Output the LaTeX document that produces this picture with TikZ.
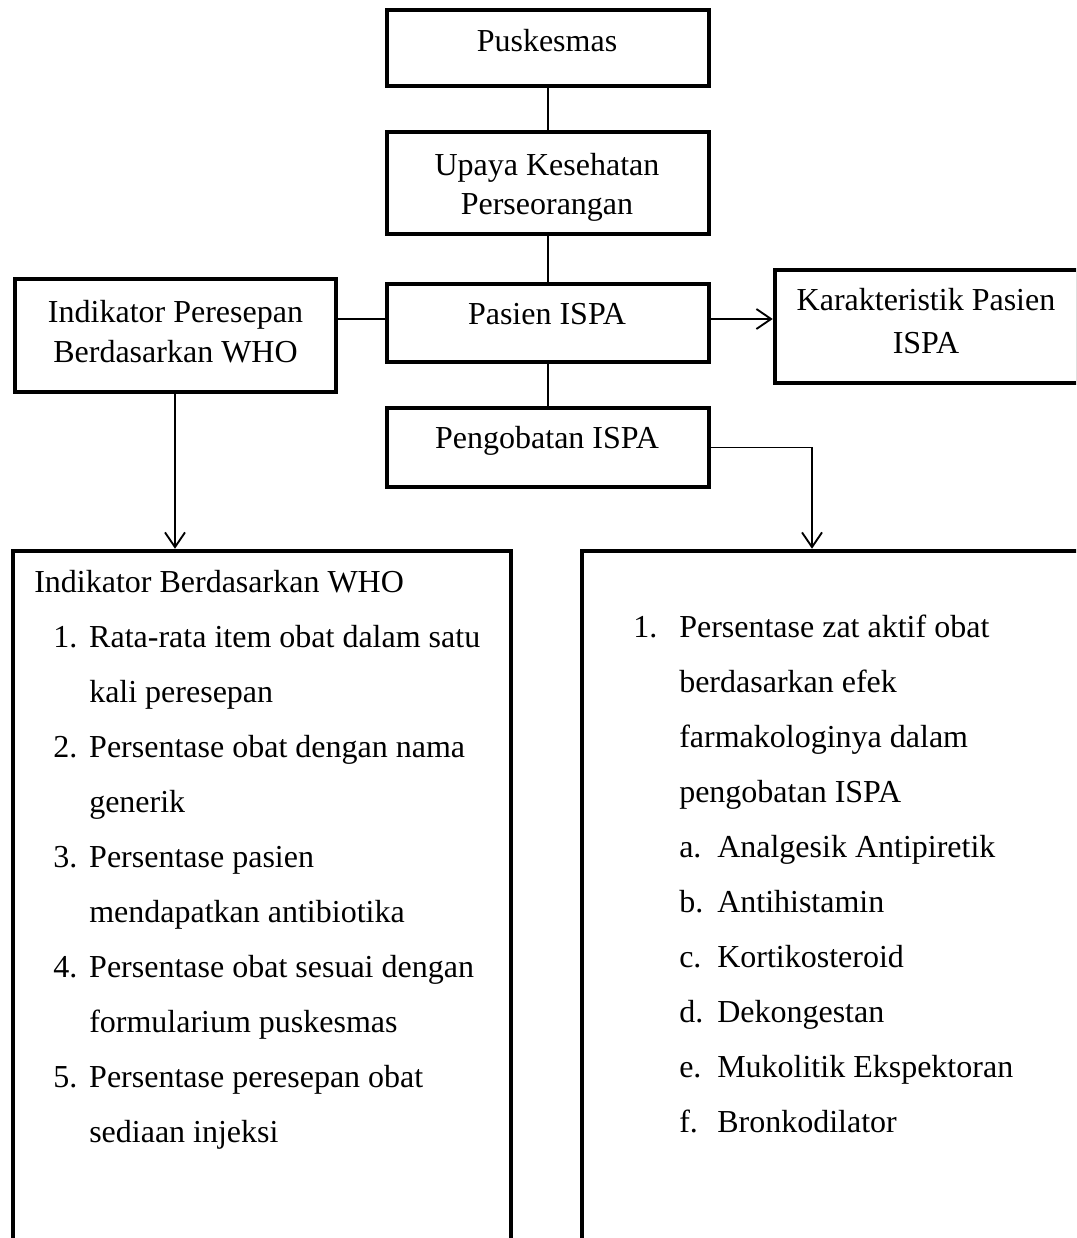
\documentclass[tikz,border=0pt]{standalone}
\usepackage{fontspec}
\setmainfont{Liberation Serif}
\usetikzlibrary{arrows.meta,fit}
\tikzset{
  box/.style={draw=black, line width=3.4pt, inner sep=0pt, fill=none},
  conn/.style={draw=black, line width=1.4pt},
  arr/.style={conn, -{Straight Barb[length=11pt,width=15pt,line width=1.4pt]}},
  txt/.style={inner sep=0pt, anchor=base, font=\fontsize{24}{30}\selectfont},
  listtxt/.style={inner sep=0pt, anchor=base west, font=\fontsize{24}{41.25}\selectfont}
}
\begin{document}
\begin{tikzpicture}[x=0.75pt,y=-0.75pt]
\useasboundingbox (0,0) rectangle (1076,1238);
\clip (0,0) rectangle (1076,1238);
\fill[white] (0,0) rectangle (1076,1238);

% boxes
\node[box, fit={(387,10) (709,86)}] (pus) {};
\node[box, fit={(387,132) (709,234)}] (upa) {};
\node[box, fit={(387,284) (709,362)}] (pas) {};
\node[box, fit={(387,408) (709,487)}] (pen) {};
\node[box, fit={(15,279) (336,392)}] (ind) {};
\node[box, fit={(775,270) (1078,383)}] (kar) {};
\node[box, fit={(13,551) (511,1260)}] (bl) {};
\node[box, fit={(582,551) (1090,1260)}] (br) {};

% helper coordinates
\coordinate (midrow) at (0,319);
\coordinate (tcol) at (812,0);
\coordinate (lcol) at (175,0);

% texts
\node[txt] (pusT) at (547,52) {Puskesmas};
\node[txt] (upaT) at (547,175) {\parbox[t]{300pt}{\centering\fontsize{24}{29.25}\selectfont Upaya Kesehatan\\Perseorangan}};
\node[txt] (pasT) at (547,324) {Pasien ISPA};
\node[txt] (penT) at (547,448) {Pengobatan ISPA};
\node[txt] (indT) at (175.5,322) {\parbox[t]{240pt}{\centering\fontsize{24}{30}\selectfont Indikator Peresepan\\Berdasarkan WHO}};
\node[txt] (karT) at (926,310) {\parbox[t]{240pt}{\centering\fontsize{24}{32.25}\selectfont Karakteristik Pasien\\ISPA}};

\node[listtxt] (blT) at (34,592) {\parbox[t]{360pt}{%
Indikator Berdasarkan WHO\\
\hspace*{14.25pt}\makebox[27pt][l]{1.}Rata-rata item obat dalam satu\\
\hspace*{41.25pt}kali peresepan\\
\hspace*{14.25pt}\makebox[27pt][l]{2.}Persentase obat dengan nama\\
\hspace*{41.25pt}generik\\
\hspace*{14.25pt}\makebox[27pt][l]{3.}Persentase pasien\\
\hspace*{41.25pt}mendapatkan antibiotika\\
\hspace*{14.25pt}\makebox[27pt][l]{4.}Persentase obat sesuai dengan\\
\hspace*{41.25pt}formularium puskesmas\\
\hspace*{14.25pt}\makebox[27pt][l]{5.}Persentase peresepan obat\\
\hspace*{41.25pt}sediaan injeksi}};

\node[listtxt] (brT) at (633,637) {\parbox[t]{320pt}{%
\makebox[34.5pt][l]{1.}Persentase zat aktif obat\\
\hspace*{34.5pt}berdasarkan efek\\
\hspace*{34.5pt}farmakologinya dalam\\
\hspace*{34.5pt}pengobatan ISPA\\
\hspace*{34.5pt}\makebox[28.5pt][l]{a.}Analgesik Antipiretik\\
\hspace*{34.5pt}\makebox[28.5pt][l]{b.}Antihistamin\\
\hspace*{34.5pt}\makebox[28.5pt][l]{c.}Kortikosteroid\\
\hspace*{34.5pt}\makebox[28.5pt][l]{d.}Dekongestan\\
\hspace*{34.5pt}\makebox[28.5pt][l]{e.}Mukolitik Ekspektoran\\
\hspace*{34.5pt}\makebox[28.5pt][l]{f.}Bronkodilator}};

% connectors
\draw[conn] (pus.south) -- (upa.north);
\draw[conn] (upa.south) -- (pas.north);
\draw[conn] (pas.south) -- (pen.north);
\draw[conn] (ind.east |- midrow) -- (pas.west |- midrow);
\draw[arr] (pas.east |- midrow) -- (kar.west |- midrow);
\draw[arr] (ind.south -| lcol) -- (bl.north -| lcol);
\draw[arr] (pen.east) -| (br.north west -| tcol);
\end{tikzpicture}
\end{document}
